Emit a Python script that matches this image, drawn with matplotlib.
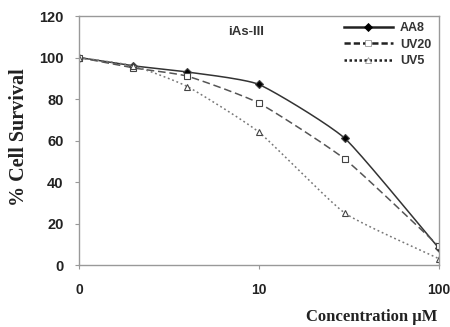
import numpy as np
import matplotlib
matplotlib.use("Agg")
import matplotlib.pyplot as plt
from matplotlib.lines import Line2D

# Data (concentration 0 plotted at 1 on the log axis)
conc = [1, 2, 4, 10, 30, 100]
aa8 = [100, 96, 93, 87, 61, 8]
uv20 = [100, 95, 91, 78, 51, 9]
uv5 = [100, 96, 86, 64, 25, 3]
xtick_vals = [1, 10, 100]
xtick_labels = ["0", "10", "100"]
ytick_vals = [0, 20, 40, 60, 80, 100, 120]


def smooth(x, y, n=30):
    lx = np.log10(np.asarray(x, float))
    yy = np.asarray(y, float)
    px = np.concatenate([[2 * lx[0] - lx[1]], lx, [2 * lx[-1] - lx[-2]]])
    py = np.concatenate([[2 * yy[0] - yy[1]], yy, [2 * yy[-1] - yy[-2]]])
    ox, oy = [], []
    for i in range(1, len(px) - 2):
        t = np.linspace(0, 1, n, endpoint=False)
        for p, o in ((px, ox), (py, oy)):
            p0, p1, p2, p3 = p[i - 1], p[i], p[i + 1], p[i + 2]
            m1 = (p2 - p0) / 2 * 0.5
            m2 = (p3 - p1) / 2 * 0.5
            h00 = 2 * t**3 - 3 * t**2 + 1
            h10 = t**3 - 2 * t**2 + t
            h01 = -2 * t**3 + 3 * t**2
            h11 = t**3 - t**2
            o.extend(h00 * p1 + h10 * m1 + h01 * p2 + h11 * m2)
    ox.append(lx[-1]); oy.append(yy[-1])
    return 10 ** np.array(ox), np.array(oy)


fig = plt.figure(figsize=(4.5, 3.27), dpi=100)
ax = fig.add_axes([0.1756, 0.1896, 0.80, 0.7614])
ax.set_xscale("log")

series = [
    ("AA8", aa8, "-", "D", "black", "#333333"),
    ("UV20", uv20, (0, (5, 2.5)), "s", "white", "#555555"),
    ("UV5", uv5, (0, (1.2, 1.8)), "^", "white", "#777777"),
]
handles = []
for name, vals, ls, mk, mfc, lc in series:
    sx, sy = smooth(conc, vals)
    ax.plot(sx, sy, linestyle=ls, color=lc, lw=1.1)
    ax.plot(conc, vals, linestyle="none", marker=mk, markersize=4.5 if mk != "D" else 4,
            markerfacecolor=mfc, markeredgecolor="#444444", markeredgewidth=0.8)
    hls = ls if ls == "-" else ((0, (2.5, 1.2)) if mk == "s" else (0, (1.0, 1.0)))
    handles.append(Line2D([], [], linestyle=hls, color="#222222", lw=1.8, marker=mk,
                          markersize=4, markerfacecolor=mfc,
                          markeredgecolor="#999999" if mfc == "white" else "black",
                          markeredgewidth=0.6))

ax.set_xlim(1, 100)
ax.set_ylim(0, 120)
ax.set_xticks(xtick_vals)
ax.set_xticklabels(xtick_labels)
ax.xaxis.set_minor_locator(matplotlib.ticker.NullLocator())
ax.set_yticks(ytick_vals)
for s in ax.spines.values():
    s.set_color("#999999")
    s.set_linewidth(1.0)
ax.tick_params(axis="both", colors="#999999", length=3, width=0.8,
               labelcolor="#222222", labelsize=10.5)
ax.tick_params(axis="x", labelsize=10)
for lab in ax.get_xticklabels() + ax.get_yticklabels():
    lab.set_fontfamily("Liberation Sans")
    lab.set_fontweight("bold")
ax.tick_params(axis="x", pad=10)
ax.tick_params(axis="y", pad=8)

ax.text(0.414, 0.935, "iAs-III", transform=ax.transAxes, fontsize=9.5,
        fontweight="bold", family="Liberation Sans", color="#333333", va="center")

leg = ax.legend(handles, ["AA8", "UV20", "UV5"], loc="upper right",
                bbox_to_anchor=(1.01, 1.02), frameon=False, handlelength=3.9,
                handletextpad=0.6, labelspacing=0.35,
                prop={"family": "Liberation Sans", "weight": "bold", "size": 9})
for t in leg.get_texts():
    t.set_color("#333333")

fig.text(0.973, 1 - 317 / 327, "Concentration \u00b5M", ha="right", va="center",
         fontsize=12, fontweight="bold", family="Liberation Serif", color="#222222")
fig.text(0.042, 1 - 137 / 327, "% Cell Survival", rotation=90, ha="center", va="center",
         fontsize=14.5, fontweight="bold", family="Liberation Serif", color="#222222")

fig.savefig("out.png", dpi=100)
